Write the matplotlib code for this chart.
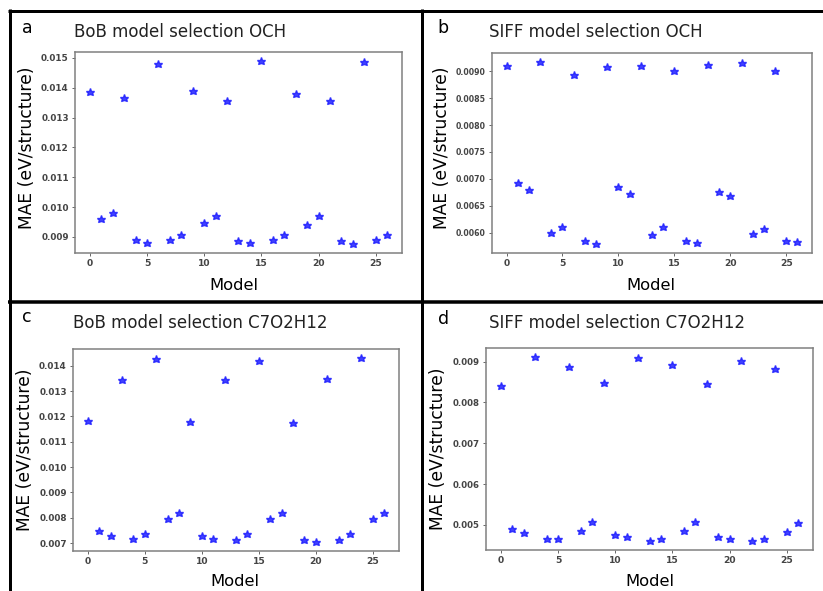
import matplotlib
matplotlib.use("Agg")
import matplotlib.pyplot as plt
from matplotlib.lines import Line2D

W, H = 823, 591

models = list(range(27))

bob_och = [0.01385, 0.00959, 0.00980, 0.01365, 0.00889, 0.00879, 0.01480,
           0.00891, 0.00906, 0.01390, 0.00948, 0.00970, 0.01357, 0.00885,
           0.00880, 0.01489, 0.00889, 0.00906, 0.01379, 0.00940, 0.00969,
           0.01354, 0.00885, 0.00877, 0.01487, 0.00889, 0.00907]

siff_och = [0.00909, 0.00692, 0.00679, 0.00917, 0.00600, 0.00611, 0.00893,
            0.00584, 0.00579, 0.00907, 0.00684, 0.00672, 0.00909, 0.00595,
            0.00611, 0.00900, 0.00584, 0.00581, 0.00912, 0.00675, 0.00668,
            0.00915, 0.00597, 0.00607, 0.00900, 0.00585, 0.00583]

bob_c7 = [0.01181, 0.00746, 0.00729, 0.01345, 0.00715, 0.00736, 0.01426,
          0.00796, 0.00820, 0.01180, 0.00726, 0.00716, 0.01343, 0.00712,
          0.00736, 0.01420, 0.00796, 0.00820, 0.01174, 0.00713, 0.00705,
          0.01349, 0.00713, 0.00734, 0.01430, 0.00796, 0.00820]

siff_c7 = [0.00840, 0.00489, 0.00479, 0.00911, 0.00465, 0.00466, 0.00888,
           0.00485, 0.00506, 0.00848, 0.00475, 0.00470, 0.00908, 0.00461,
           0.00466, 0.00891, 0.00484, 0.00506, 0.00846, 0.00470, 0.00465,
           0.00902, 0.00461, 0.00465, 0.00883, 0.00482, 0.00504]

titles = ["BoB model selection OCH", "SIFF model selection OCH",
          "BoB model selection C7O2H12", "SIFF model selection C7O2H12"]
letters = ["a", "b", "c", "d"]
series = [bob_och, siff_och, bob_c7, siff_c7]
yticks = [
    [0.009, 0.010, 0.011, 0.012, 0.013, 0.014, 0.015],
    [0.0060, 0.0065, 0.0070, 0.0075, 0.0080, 0.0085, 0.0090],
    [0.007, 0.008, 0.009, 0.010, 0.011, 0.012, 0.013, 0.014],
    [0.005, 0.006, 0.007, 0.008, 0.009],
]
yfmt = ["%.3f", "%.4f", "%.3f", "%.3f"]

# pixel layout: axes box (left, top, right, bottom), letter, title, ylabel, xlabel
layout = [
    dict(box=(75, 52, 402, 253), letter=(22, 28), title=(74, 32), ylab=(27, 148), xlab=(234, 286), ytick=6.4),
    dict(box=(492, 53, 812, 253), letter=(437, 28), title=(489, 32), ylab=(442, 148), xlab=(651, 286), ytick=5.6),
    dict(box=(73, 349, 399, 551), letter=(22, 317), title=(73, 323), ylab=(25, 450), xlab=(235, 581), ytick=6.4),
    dict(box=(486, 348, 813, 550), letter=(438, 319), title=(489, 323), ylab=(438, 449), xlab=(650, 581), ytick=6.2),
]


def fx(px):
    return px / W


def fy(py):
    return 1 - py / H


fig = plt.figure(figsize=(W / 100, H / 100), dpi=100)
fig.patch.set_facecolor("white")

for vals, title, letter, ticks, fmt, lay in zip(series, titles, letters, yticks, yfmt, layout):
    l, t, r, b = lay["box"]
    ax = fig.add_axes([fx(l), fy(b), fx(r) - fx(l), fy(t) - fy(b)])
    ax.plot(models, vals, "*", color="#2020ff", alpha=0.85, markersize=6.2,
            markeredgewidth=1.0)
    ax.set_xticks([0, 5, 10, 15, 20, 25])
    ax.set_yticks(ticks)
    ax.yaxis.set_major_formatter(matplotlib.ticker.FormatStrFormatter(fmt))
    for s in ax.spines.values():
        s.set_color("#808080")
        s.set_linewidth(1.1)
    ax.tick_params(axis="both", length=2.5, width=0.7, color="#666666",
                   pad=2, labelcolor="#444444")
    ax.tick_params(axis="x", labelsize=6.6)
    ax.tick_params(axis="y", labelsize=lay["ytick"])
    for lab in ax.get_xticklabels() + ax.get_yticklabels():
        lab.set_fontweight("bold")

    fig.text(fx(lay["letter"][0]), fy(lay["letter"][1]), letter, fontsize=12.5,
             ha="left", va="center")
    fig.text(fx(lay["title"][0]), fy(lay["title"][1]), title, fontsize=12,
             ha="left", va="center", color="#222222")
    fig.text(fx(lay["ylab"][0]), fy(lay["ylab"][1]), "MAE (eV/structure)",
             fontsize=12.3, rotation=90, ha="center", va="center")
    fig.text(fx(lay["xlab"][0]), fy(lay["xlab"][1]), "Model", fontsize=11.8,
             ha="center", va="center")

# panel frame lines
frame = [
    ((8, 823), (10.5, 10.5), 3.0),
    ((9.5, 9.5), (9, 591), 3.0),
    ((421.5, 421.5), (9, 591), 3.0),
    ((8, 823), (302, 302), 3.5),
]
for xs, ys, lw in frame:
    fig.add_artist(Line2D([fx(x) for x in xs], [fy(y) for y in ys],
                          color="black", linewidth=lw * 0.72,
                          transform=fig.transFigure, solid_capstyle="butt"))

fig.savefig("out.png", dpi=100)
